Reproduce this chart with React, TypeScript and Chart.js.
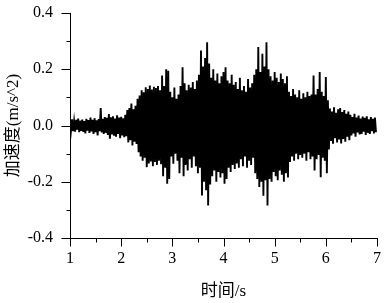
import React, { useEffect, useRef } from "react";
import { Chart, registerables } from "chart.js";

Chart.register(...registerables);

// Sample spacing of the record (s); each interval holds one positive and one negative peak
const startTime = 1.0;
const peakInterval = 0.04;

// Positive peaks of the acceleration record (m/s^2), one per 0.04 s from t = 1.00 s
const upperPeaks = [
  0.018, 0.022, 0.015, 0.020, 0.025, 0.017, 0.021, 0.016, 0.024, 0.019, 0.028, 0.020, 0.026, 0.018, 0.023,
  0.062,
  0.024, 0.030, 0.027, 0.041, 0.029, 0.033, 0.025, 0.036, 0.028, 0.031, 0.026, 0.038,
  0.055, 0.062, 0.078, 0.058, 0.070,
  0.095, 0.107, 0.125, 0.118, 0.136,
  0.130, 0.142, 0.128, 0.138, 0.133, 0.140, 0.125,
  0.178,
  0.140, 0.200, 0.195,
  0.120, 0.100, 0.135, 0.095, 0.110, 0.140,
  0.207,
  0.150, 0.125, 0.145, 0.135, 0.155, 0.130,
  0.160, 0.180,
  0.267,
  0.210, 0.240,
  0.296,
  0.220,
  0.170, 0.200, 0.160, 0.185, 0.150, 0.175, 0.190,
  0.207,
  0.160, 0.150, 0.180,
  0.145, 0.155, 0.130,
  0.170, 0.125, 0.140, 0.120, 0.165, 0.135, 0.150,
  0.180, 0.200,
  0.279,
  0.190, 0.255,
  0.210,
  0.296,
  0.200, 0.175, 0.160, 0.190, 0.170, 0.155, 0.185, 0.165, 0.150, 0.175,
  0.120, 0.105, 0.130, 0.110, 0.100, 0.125,
  0.095, 0.115, 0.100, 0.120, 0.105, 0.110,
  0.178,
  0.110, 0.130,
  0.190,
  0.120, 0.105,
  0.172,
  0.090,
  0.060, 0.050, 0.065, 0.045, 0.058, 0.062, 0.048, 0.055, 0.042, 0.050,
  0.038, 0.030, 0.042, 0.028, 0.035, 0.025, 0.032, 0.027, 0.033, 0.022, 0.030, 0.024, 0.028,
];

// Negative peaks of the acceleration record (m/s^2), 0.02 s after each positive peak
const lowerPeaks = [
  -0.016, -0.020, -0.022, -0.015, -0.024, -0.019, -0.023, -0.028, -0.018, -0.026, -0.021, -0.030, -0.024, -0.035, -0.020,
  -0.025,
  -0.030, -0.026, -0.034, -0.047, -0.032, -0.036, -0.040, -0.030, -0.045, -0.035, -0.042, -0.038,
  -0.060, -0.052, -0.071, -0.058, -0.066,
  -0.095, -0.110, -0.125, -0.115, -0.148,
  -0.135, -0.128, -0.145, -0.130, -0.140, -0.125, -0.138,
  -0.180,
  -0.150, -0.207, -0.190,
  -0.110, -0.136, -0.100, -0.125, -0.170, -0.115,
  -0.180,
  -0.140, -0.160, -0.120, -0.150, -0.110, -0.145,
  -0.170, -0.150,
  -0.249,
  -0.200, -0.230,
  -0.284,
  -0.210,
  -0.180, -0.160, -0.200, -0.165, -0.185, -0.170, -0.207,
  -0.190,
  -0.150, -0.165, -0.140,
  -0.155, -0.135, -0.150,
  -0.120, -0.145, -0.110, -0.150, -0.125, -0.140, -0.115,
  -0.170, -0.190,
  -0.219,
  -0.200, -0.250,
  -0.195,
  -0.284,
  -0.190, -0.200, -0.165, -0.180, -0.195, -0.160, -0.175, -0.200, -0.170, -0.185,
  -0.130, -0.110, -0.125, -0.100, -0.120, -0.105,
  -0.115, -0.100, -0.125, -0.095, -0.120, -0.110,
  -0.160,
  -0.120, -0.105,
  -0.184,
  -0.115, -0.125,
  -0.170,
  -0.085,
  -0.055, -0.065, -0.045, -0.060, -0.050, -0.064, -0.048, -0.058, -0.040, -0.052,
  -0.035, -0.028, -0.040, -0.025, -0.032, -0.030, -0.022, -0.034, -0.026, -0.030, -0.020, -0.028, -0.024,
];

// Axis ranges and ticks
const xMin = 1;
const xMax = 7;
const xStep = 1;
const yMin = -0.4;
const yMax = 0.4;
const yStep = 0.2;

const xTitle = "时间/s";
const yTitle = "加速度(m/s^2)";

const serif = "'Times New Roman', 'Liberation Serif', 'Noto Sans CJK SC', serif";

function buildSeries() {
  const pts: { x: number; y: number }[] = [];
  for (let i = 0; i < upperPeaks.length; i++) {
    const t = startTime + i * peakInterval;
    pts.push({ x: t, y: upperPeaks[i] });
    pts.push({ x: t + peakInterval / 2, y: lowerPeaks[i] });
  }
  return pts;
}

const tickMarksPlugin = {
  id: "tickMarks",
  afterDraw(chart: any) {
    const ctx = chart.ctx;
    const xs = chart.scales.x;
    const ys = chart.scales.y;
    const area = chart.chartArea;
    ctx.save();
    ctx.strokeStyle = "#000";
    ctx.lineWidth = 1;
    ctx.beginPath();
    for (let v = xMin; v <= xMax + 1e-9; v += xStep / 2) {
      const major = Math.abs((v - xMin) / xStep - Math.round((v - xMin) / xStep)) < 1e-6;
      const px = Math.round(xs.getPixelForValue(v)) + 0.5;
      const py = Math.round(area.bottom) + 0.5;
      ctx.moveTo(px, py);
      ctx.lineTo(px, py + (major ? 8 : 4));
    }
    for (let v = yMin; v <= yMax + 1e-9; v += yStep / 2) {
      const major = Math.abs((v - yMin) / yStep - Math.round((v - yMin) / yStep)) < 1e-6;
      const py = Math.round(ys.getPixelForValue(v)) + 0.5;
      const px = Math.round(area.left) + 0.5;
      ctx.moveTo(px, py);
      ctx.lineTo(px - (major ? 9 : 4), py);
    }
    ctx.stroke();
    ctx.restore();
  },
};

export default function App() {
  const canvasRef = useRef<HTMLCanvasElement | null>(null);

  useEffect(() => {
    document.body.style.margin = "0";
    const canvas = canvasRef.current;
    if (!canvas) return;
    const chart = new Chart(canvas, {
      type: "line",
      data: {
        datasets: [
          {
            data: buildSeries(),
            borderColor: "#000",
            borderWidth: 1.9,
            pointRadius: 0,
            tension: 0,
            fill: false,
          },
        ],
      },
      options: {
        animation: false,
        responsive: false,
        devicePixelRatio: 1,
        layout: { padding: { top: 13, right: 8, left: 0, bottom: 0 } },
        plugins: { legend: { display: false }, tooltip: { enabled: false } },
        scales: {
          x: {
            type: "linear",
            min: xMin,
            max: xMax,
            grid: { display: false, drawTicks: false },
            border: { display: true, color: "#000", width: 1 },
            ticks: {
              stepSize: xStep,
              color: "#000",
              padding: 11,
              font: { family: serif, size: 16 },
              callback: (v: any) => String(v),
            },
            title: {
              display: true,
              text: xTitle,
              color: "#000",
              font: { family: serif, size: 17 },
              padding: { top: 0, bottom: 1 },
            },
            afterFit: (s: any) => {
              s.height = 65;
              s.paddingLeft = 0;
              s.paddingRight = 0;
            },
          },
          y: {
            type: "linear",
            min: yMin,
            max: yMax,
            grid: { display: false, drawTicks: false },
            border: { display: true, color: "#000", width: 1 },
            ticks: {
              stepSize: yStep,
              color: "#000",
              padding: 17,
              font: { family: serif, size: 16 },
              callback: (v: any) => Number(v).toFixed(1),
            },
            title: {
              display: true,
              text: yTitle,
              color: "#000",
              font: { family: serif, size: 17 },
              padding: { top: 3, bottom: 0 },
            },
            afterFit: (s: any) => {
              s.width = 70;
              s.paddingTop = 0;
              s.paddingBottom = 0;
            },
          },
        },
      },
      plugins: [tickMarksPlugin],
    });
    return () => chart.destroy();
  }, []);

  return (
    <div style={{ width: 385, height: 303, background: "#fff" }}>
      <canvas ref={canvasRef} width={385} height={303} style={{ display: "block" }} />
    </div>
  );
}
